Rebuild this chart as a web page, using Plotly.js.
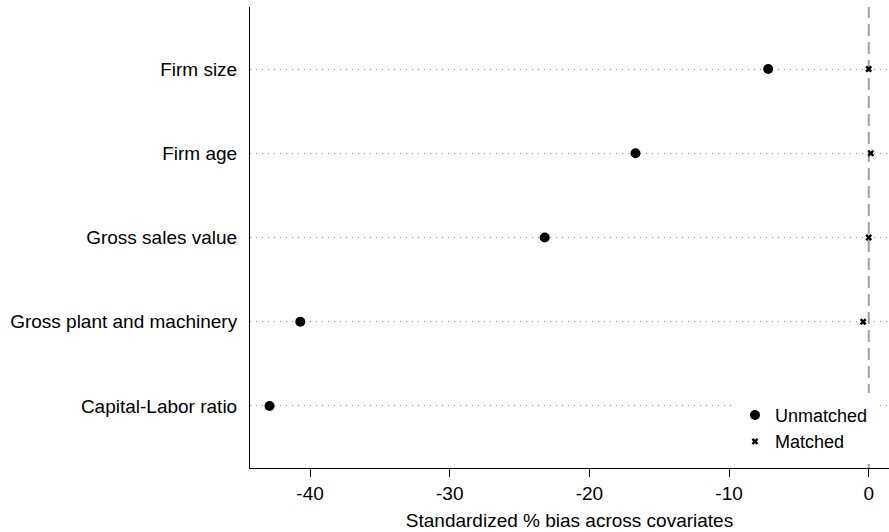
<!DOCTYPE html>
<html>
<head>
<meta charset="utf-8">
<script src="https://cdn.plot.ly/plotly-3.0.1.min.js"></script>
<style>html,body{margin:0;padding:0;background:#fff;}#chart{width:889px;height:532px;}</style>
</head>
<body>
<div id="chart"></div>
<script>
const covariates = ["Firm size", "Firm age", "Gross sales value", "Gross plant and machinery", "Capital-Labor ratio"];
const unmatched = [-7.2, -16.7, -23.2, -40.7, -42.9];
const matched = [0.0, 0.15, 0.0, -0.4, 0.0];
const xTicks = [-40, -30, -20, -10, 0];

const traces = [
  {x: unmatched, y: covariates, type: "scatter", mode: "markers", name: "Unmatched",
   marker: {symbol: "circle", size: 10, color: "#000"}},
  {x: matched, y: covariates, type: "scatter", mode: "markers", name: "Matched",
   marker: {symbol: "x", size: 6, color: "#000"}}
];

const layout = {
  width: 889, height: 532,
  margin: {l: 250, r: 0, t: 7, b: 64},
  paper_bgcolor: "#fff", plot_bgcolor: "#fff",
  font: {family: "Liberation Sans, Arial, sans-serif", size: 19, color: "#000"},
  showlegend: true,
  legend: {x: 0.7527, xanchor: "left", y: 0.163, yanchor: "top", bgcolor: "#fff",
           bordercolor: "#fff", borderwidth: 4,
           font: {size: 18}, itemwidth: 30, tracegroupgap: 0},
  xaxis: {range: [-44.3, 1.45], tickvals: xTicks, ticktext: xTicks.map(String),
          showgrid: false, zeroline: false, showline: true, linecolor: "#000", linewidth: 1,
          ticks: "outside", ticklen: 8, tickcolor: "#000",
          title: {text: "Standardized % bias across covariates", font: {size: 19}, standoff: 10}},
  yaxis: {type: "category", categoryorder: "array", categoryarray: covariates,
          range: [4.736, -0.736], showgrid: true, gridcolor: "#8a8a8a", gridwidth: 1, griddash: "1px,5px",
          zeroline: false, showline: true, linecolor: "#000", linewidth: 1,
          ticks: "", ticklabelstandoff: 8},
  shapes: [{type: "line", xref: "x", yref: "paper", x0: 0, x1: 0, y0: 0, y1: 1,
            line: {color: "#a0a0a0", width: 2, dash: "12px,6px"}, layer: "below"}]
};

Plotly.newPlot("chart", traces, layout, {displayModeBar: false});
</script>
</body>
</html>
